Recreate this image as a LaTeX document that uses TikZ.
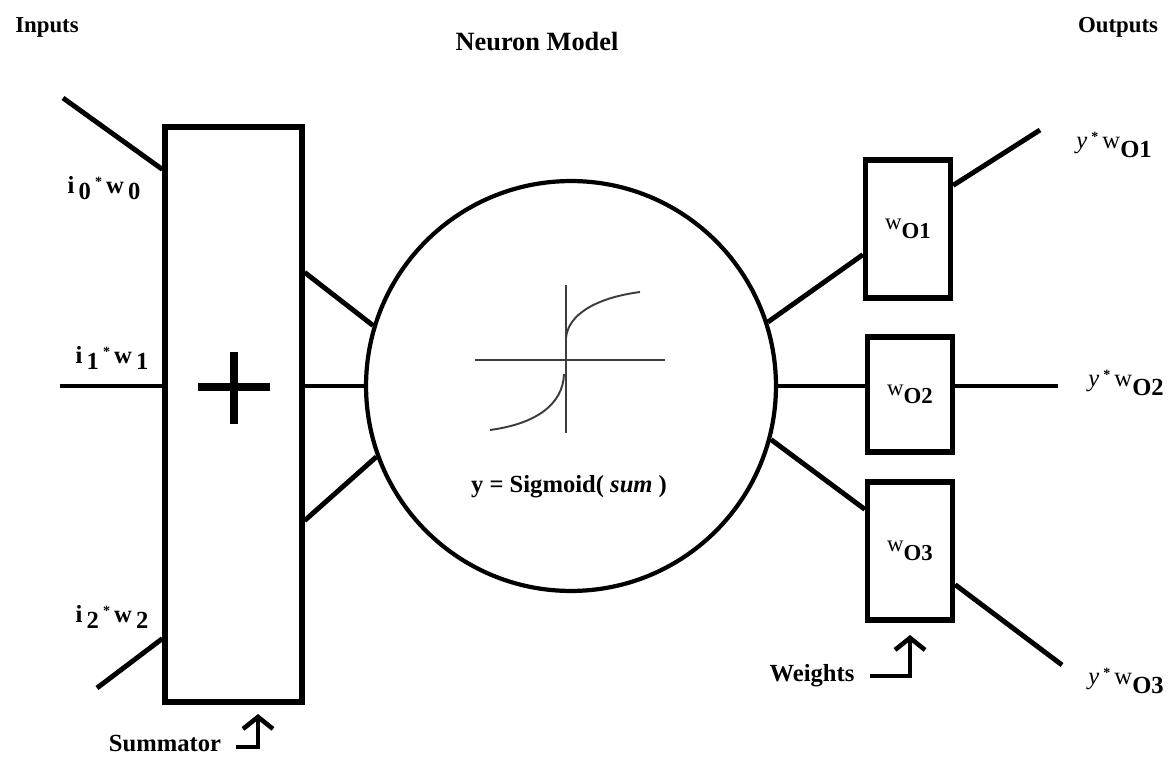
\documentclass[tikz,border=0pt]{standalone}
\usepackage{fontspec}
\setmainfont{Liberation Serif}
\usetikzlibrary{arrows.meta,positioning}
\definecolor{nmblack}{RGB}{0,0,0}
\definecolor{nmgray}{RGB}{60,60,60}
\newcommand{\lowr}[1]{\raisebox{-0.55ex}{#1}}
\newcommand{\highr}[1]{\raisebox{0.6ex}{\footnotesize #1}}
\newcommand{\wsub}[1]{{\normalfont w}\raisebox{-0.8ex}{\bfseries #1}}

\begin{document}
\begin{tikzpicture}[x=0.02cm, y=-0.02cm,
    wire/.style={nmblack, line width=2.8pt},
    sumbox/.style={draw, nmblack, line width=3pt, rectangle, inner sep=0pt},
    wbox/.style={draw, nmblack, line width=3pt, rectangle, inner sep=0pt,
      minimum width=1.7cm, minimum height=2.76cm, font=\bfseries\fontsize{13}{15}\selectfont},
    lbl/.style={font=\bfseries\fontsize{14}{16}\selectfont, inner sep=0pt},
    plotline/.style={nmgray, line width=1.1pt},
    hookarrow/.style={nmblack, line width=2.6pt, -{Straight Barb[length=2.4mm,width=6mm]}}]
  \useasboundingbox (0,0) rectangle (1175,759);
  % Titles
  \node[lbl, font=\bfseries\fontsize{13}{15}\selectfont] (inputs) at (47,27) {Inputs};
  \node[font=\bfseries\fontsize{15}{17}\selectfont] (title) at (537,42) {Neuron Model};
  \node[lbl, font=\bfseries\fontsize{13}{15}\selectfont] (outputs) at (1118,27) {Outputs};
  % Summator
  \node[sumbox, minimum width=2.74cm, minimum height=11.5cm] (sum) at (233.5,414.5) {};
  \draw[nmblack, line width=4.5pt] (198,387) -- (270,387) (234,352) -- (234,424);
  \node[lbl] (summ) at (165,744) {Summator};
  \coordinate (summtip) at (258,714);
  \draw[hookarrow] ([xshift=0.3cm,yshift=-0.06cm]summ.east) -| (summtip);
  % Inputs
  \coordinate (in0) at (63,98);
  \coordinate (in1) at (60,386);
  \coordinate (in2) at (97,688);
  \draw[wire] (in0) -- ([yshift=-0.9cm]sum.north west);
  \draw[wire] (in1) -- (in1 -| sum.west);
  \draw[wire] (in2) -- ([yshift=1.32cm]sum.south west);
  \node[lbl] (i0) at (104,188) {i\,\lowr{0}\,\highr{*}\,w\,\lowr{0}};
  \node[lbl] (i1) at (112,358) {i\,\lowr{1}\,\highr{*}\,w\,\lowr{1}};
  \node[lbl] (i2) at (112,617) {i\,\lowr{2}\,\highr{*}\,w\,\lowr{2}};
  % Neuron
  \node[circle, draw, nmblack, line width=2.4pt, minimum size=8.2cm, inner sep=0pt] (neuron) at (571,386) {};
  \draw[wire] ([yshift=-2.96cm]sum.north east) -- (neuron.163);
  \draw[wire] (sum.east |- neuron.west) -- (neuron.west);
  \draw[wire] ([yshift=3.68cm]sum.south east) -- (neuron.200);
  % Sigmoid
  \draw[plotline] (475,360) -- (665,360) (566,285) -- (566,433);
  \draw[plotline] (566,338) .. controls (568,315) and (595,298) .. (640,292);
  \draw[plotline] (490,430) .. controls (535,424) and (563,405) .. (564,374);
  \node[lbl] (sig) at (569,487) {y = Sigmoid( {\itshape sum} )};
  % Weights
  \node[wbox] (w1) at (908,229) {\wsub{O1}};
  \node[wbox, minimum height=2.3cm] (w2) at (910,394.5) {\wsub{O2}};
  \node[wbox] (w3) at (910,551) {\wsub{O3}};
  \draw[wire] (neuron.18) -- ([yshift=0.92cm]w1.south west);
  \draw[wire] (neuron.east) -- (neuron.east -| w2.west);
  \draw[wire] (neuron.-15) -- ([yshift=-0.6cm]w3.north west);
  \node[lbl] (wts) at (812,676) {Weights};
  \coordinate (wtstip) at (910,635);
  \draw[hookarrow] ([xshift=0.3cm]wts.east) -| (wtstip);
  % Outputs
  \coordinate (out1) at (1040,130);
  \coordinate (out2) at (1058,386);
  \coordinate (out3) at (1062,665);
  \draw[wire] ([yshift=-0.56cm]w1.north east) -- (out1);
  \draw[wire] (w2.east |- neuron.east) -- (out2);
  \draw[wire] ([yshift=0.76cm]w3.south east) -- (out3);
  \node[lbl] (o1) at (1114,145) {{\normalfont\itshape y}\,\highr{*}\,\wsub{O1}};
  \node[lbl] (o2) at (1126,383) {{\normalfont\itshape y}\,\highr{*}\,\wsub{O2}};
  \node[lbl] (o3) at (1126,681) {{\normalfont\itshape y}\,\highr{*}\,\wsub{O3}};
\end{tikzpicture}
\end{document}
